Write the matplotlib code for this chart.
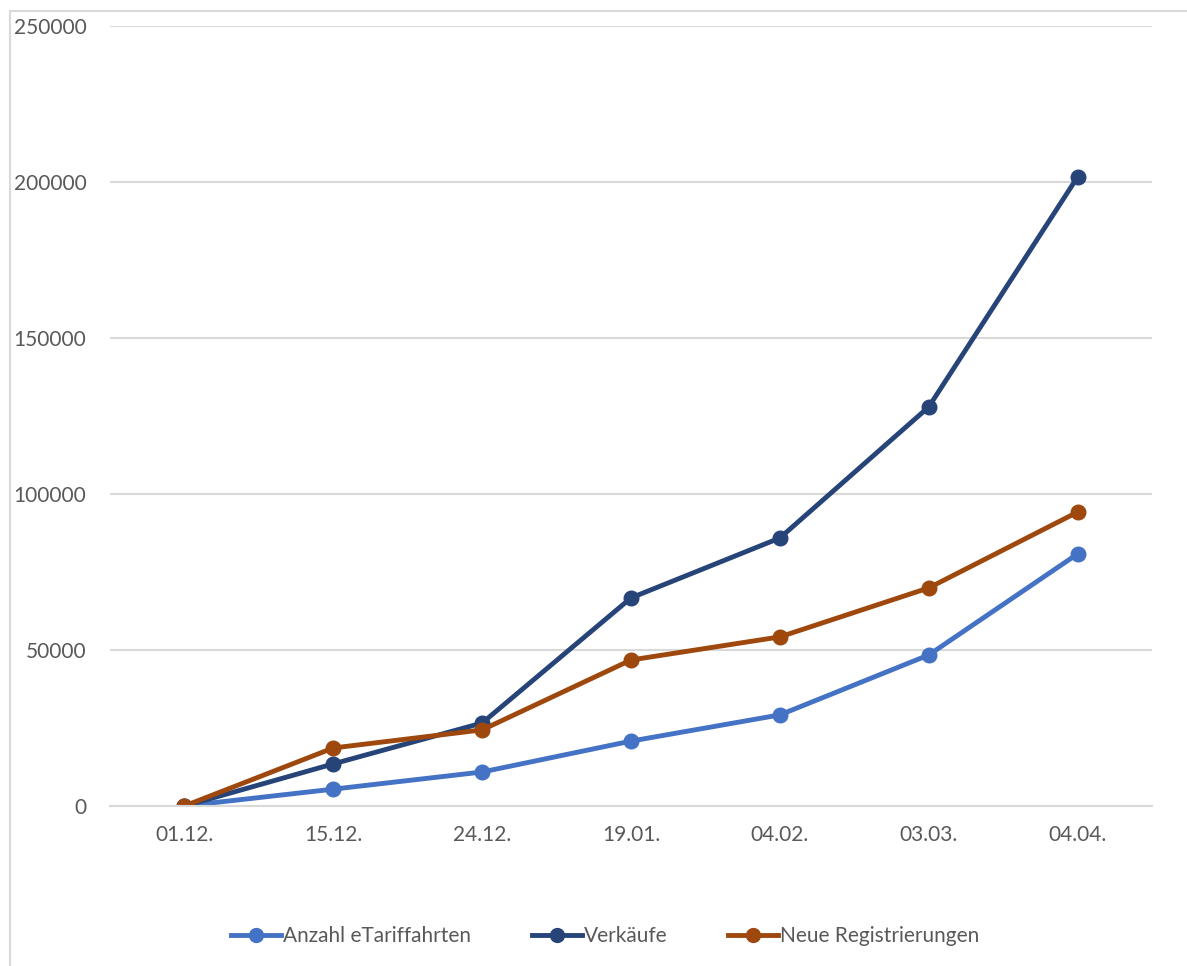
import matplotlib.pyplot as plt
from matplotlib.patches import Rectangle

dates = ['01.12.', '15.12.', '24.12.', '19.01.', '04.02.', '03.03.', '04.04.']
fahrten = [0, 5400, 10900, 20800, 29200, 48400, 80800]
verkaeufe = [0, 13500, 26600, 66700, 85900, 127900, 201600]
registrierungen = [0, 18600, 24400, 46800, 54200, 69900, 94200]

plt.rcParams['font.family'] = ['Lato', 'DejaVu Sans']

fig = plt.figure(figsize=(11.87, 9.66), dpi=100)
# chart area border (only left and top are visible in the crop)
fig.patches.append(Rectangle((10 / 1187, -0.1), 1.2, (966 - 11) / 966 + 0.1,
                             transform=fig.transFigure, fill=False,
                             edgecolor='#d9d9d9', linewidth=1.5))

ax = fig.add_axes([110 / 1187, 160 / 966, (1152 - 110) / 1187, (806 - 26) / 966])
x = range(len(dates))
ax.plot(x, fahrten, color='#4472C4', lw=3.5, marker='o', ms=10.5, label='Anzahl eTariffahrten')
ax.plot(x, verkaeufe, color='#264478', lw=3.5, marker='o', ms=10.5, label='Verkäufe')
ax.plot(x, registrierungen, color='#9E480E', lw=3.5, marker='o', ms=10.5, label='Neue Registrierungen')

ax.set_xlim(-0.5, len(dates) - 0.5)
ax.set_ylim(0, 250000)
ax.set_yticks(range(0, 250001, 50000))
ax.set_xticks(list(x))
ax.set_xticklabels(dates)
ax.yaxis.grid(True, color='#d9d9d9', lw=1.5)
ax.set_axisbelow(True)
for s in ['top', 'right', 'left']:
    ax.spines[s].set_visible(False)
ax.spines['bottom'].set_color('#d9d9d9')
ax.spines['bottom'].set_linewidth(1.5)
ax.tick_params(axis='both', length=0, labelsize=15, colors='#595959')
ax.tick_params(axis='y', pad=17)
ax.tick_params(axis='x', pad=14)

ax.legend(loc='center', bbox_to_anchor=(605 / 1187, 1 - 936 / 966), bbox_transform=fig.transFigure,
          ncol=3, frameon=False, fontsize=15, labelcolor='#595959', handlelength=2.4,
          handletextpad=0.1, columnspacing=2.9, markerscale=0.95)

fig.savefig('out.png', dpi=100)
